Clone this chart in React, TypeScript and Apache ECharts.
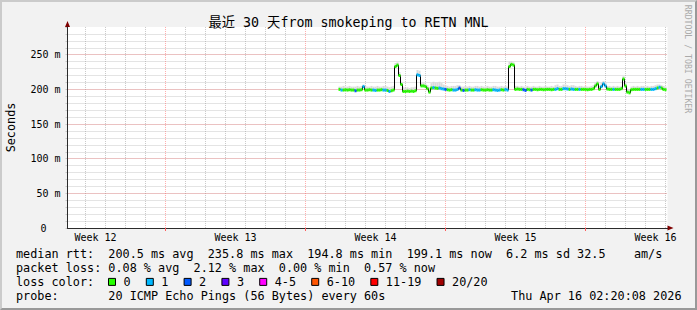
import React, { useEffect, useRef } from 'react';
import * as echarts from 'echarts';

const MONO = "'DejaVu Sans Mono', 'Noto Sans CJK SC', monospace";

const TITLE = '最近 30 天from smokeping to RETN MNL';
const Y_AXIS_NAME = 'Seconds';
const WATERMARK = 'RRDTOOL / TOBI OETIKER';

// x axis in days, 0 = start of Week 13
const X_MIN = -4.9;
const X_MAX = 25.1;
const Y_MAX = 290;
const Y_MAJOR = 50;
const Y_MINOR = 10;
const WEEK_STARTS = [0, 7, 14, 21];
const WEEK_LABELS = ['Week 12', 'Week 13', 'Week 14', 'Week 15', 'Week 16'];
const WEEK_LABEL_AT = [-3.5, 3.5, 10.5, 17.5, 24.5];

// samples (ms), every 0.1 day starting at day 8.7
const SAMPLE_T0 = 8.7;
const SAMPLE_STEP = 0.1;
const MEDIAN_MS = [
  200, 199, 199, 199.5, 199, 199.5, 199, 199, 198, 199,
  199, 199.5, 204, 199, 199, 199.5, 199, 199, 198.5, 199,
  199, 199.5, 199, 199, 198.5, 197, 198, 199, 233, 235,
  220, 207, 197, 197, 197.5, 197, 197.5, 197, 198, 221,
  220, 205, 205, 204, 201, 196, 202, 202.5, 202, 201.5,
  202, 201, 200.5, 200, 199.5, 199, 199.5, 199, 199, 200,
  202, 199, 198.5, 199, 199, 199.5, 199, 199, 199.5, 199,
  199, 199.5, 199, 199, 199.5, 199, 199, 199.5, 199, 198.5,
  199, 199.5, 199, 200, 199, 233, 236, 235, 200, 200.5,
  200, 200, 199.5, 198.5, 200, 199.5, 199, 200, 200, 199.5,
  200, 200, 199.5, 200, 200, 200, 199.5, 200, 200, 201,
  200, 200, 201, 201, 200.5, 200, 200.5, 200, 200, 200,
  200, 200, 200, 200, 199.5, 200, 200, 201, 205, 208,
  200, 204, 208, 205, 200.5, 200, 200, 200, 200, 200,
  200, 201, 215, 205, 196, 195, 199.5, 200, 200, 200,
  200, 200, 200, 200, 200, 200, 200, 200, 201, 202,
  203, 202, 200, 199.5,
];
const LOSS_COUNT = [
  0, 1, 0, 0, 0, 0, 0, 0, 2, 0,
  0, 0, 1, 0, 0, 0, 0, 1, 1, 0,
  0, 0, 1, 1, 0, 1, 0, 0, 0, 0,
  0, 0, 0, 0, 0, 0, 0, 0, 0, 1,
  1, 0, 0, 0, 0, 0, 0, 1, 0, 0,
  1, 1, 1, 2, 0, 0, 0, 1, 1, 1,
  2, 0, 2, 0, 0, 1, 0, 0, 1, 1,
  1, 0, 0, 0, 0, 0, 0, 1, 1, 1,
  1, 0, 0, 1, 1, 0, 0, 0, 0, 0,
  0, 0, 2, 2, 0, 0, 2, 0, 0, 0,
  0, 0, 0, 0, 0, 0, 0, 0, 1, 1,
  0, 0, 1, 1, 1, 0, 1, 1, 0, 0,
  1, 0, 0, 0, 0, 0, 0, 0, 0, 0,
  0, 1, 1, 1, 0, 0, 0, 1, 0, 0,
  0, 0, 0, 0, 0, 0, 0, 0, 0, 0,
  0, 1, 1, 0, 0, 0, 1, 1, 1, 0,
  1, 0, 0, 0,
];
const SMOKE_MAX_MS = [
  204, 204, 205, 204, 204, 205, 204, 204, 204, 205,
  204, 205, 207, 205, 204, 204, 205, 204, 204, 205,
  204, 204, 205, 205, 204, 203, 204, 205, 238, 239,
  225, 211, 203, 202, 203, 202, 203, 203, 204, 228,
  227, 209, 209, 208, 206, 203, 209, 211, 210, 210,
  211, 209, 207, 206, 205, 204, 205, 205, 205, 206,
  206, 204, 204, 205, 204, 205, 204, 204, 205, 205,
  204, 205, 204, 204, 205, 204, 204, 205, 205, 204,
  204, 205, 204, 205, 204, 240, 241, 239, 205, 205,
  204, 205, 204, 204, 205, 204, 204, 205, 204, 204,
  205, 204, 204, 205, 204, 204, 205, 204, 206, 207,
  205, 205, 207, 207, 206, 205, 206, 206, 205, 204,
  205, 205, 204, 205, 204, 204, 205, 206, 210, 212,
  205, 209, 212, 210, 205, 205, 204, 205, 204, 205,
  204, 205, 219, 209, 201, 200, 204, 205, 204, 205,
  204, 205, 205, 204, 205, 204, 205, 205, 206, 207,
  207, 206, 205, 204,
];

const LOSS_NAMES = ['0', '1', '2', '3', '4-5', '6-10', '11-19', '20/20'];
const LOSS_COLORS = ['#26ff00', '#00b8ff', '#0059ff', '#5e00ff', '#ff00ff', '#ff5500', '#ff0000', '#a00000'];

const STATS_RTT = 'median rtt:  200.5 ms avg  235.8 ms max  194.8 ms min  199.1 ms now  6.2 ms sd 32.5    am/s';
const STATS_LOSS = 'packet loss: 0.08 % avg  2.12 % max  0.00 % min  0.57 % now';
const LOSS_LEGEND_LABEL = 'loss color:';
const PROBE_TEXT = 'probe:       20 ICMP Echo Pings (56 Bytes) every 60s';
const TIMESTAMP = 'Thu Apr 16 02:20:08 2026';

const SMOKE_COLOR = '#dadada';
const MINOR_GRID = 'rgba(150,150,150,0.5)';
const MAJOR_GRID = 'rgba(255,91,91,0.5)';
const AXIS_COLOR = '#2b2b2b';
const ARROW_COLOR = '#7f0000';

function lossBucket(c: number): number {
  if (c <= 3) return c;
  if (c <= 5) return 4;
  if (c <= 10) return 5;
  if (c <= 19) return 6;
  return 7;
}

export default function App() {
  const ref = useRef<HTMLDivElement>(null);

  useEffect(() => {
    if (!ref.current) return;
    const chart = echarts.init(ref.current, undefined, { renderer: 'svg' });
    const HALF = SAMPLE_STEP / 2;
    const rows = MEDIAN_MS.map((v, i) => ({
      t: +(SAMPLE_T0 + i * SAMPLE_STEP).toFixed(2),
      v,
      loss: LOSS_COUNT[i],
      smoke: SMOKE_MAX_MS[i],
    }));

    const dayLines: number[] = [];
    for (let d = Math.ceil(X_MIN); d <= Math.floor(X_MAX); d++) {
      if (!WEEK_STARTS.includes(d)) dayLines.push(d);
    }

    const lossSeries = LOSS_NAMES.map((name, k) => ({
      type: 'custom',
      name,
      coordinateSystem: 'cartesian2d',
      xAxisIndex: 0,
      yAxisIndex: 1,
      z: 5,
      silent: true,
      itemStyle: { color: LOSS_COLORS[k] },
      encode: { x: 0, y: 1 },
      data: rows.filter((r) => lossBucket(r.loss) === k).map((r) => [r.t, r.v]),
      renderItem: (_p: any, api: any) => {
        const t = api.value(0);
        const v = api.value(1);
        const a = api.coord([t - HALF, v]);
        const b = api.coord([t + HALF, v]);
        return {
          type: 'rect',
          shape: { x: a[0], y: a[1] - 1.5, width: b[0] - a[0], height: 3 },
          style: { fill: LOSS_COLORS[k] },
        };
      },
    }));

    const option: any = {
      animation: false,
      backgroundColor: '#f2f2f2',
      grid: {
        left: 67.5,
        top: 27,
        width: 600,
        height: 201,
        show: true,
        backgroundColor: '#ffffff',
        borderWidth: 0,
      },
      legend: {
        data: LOSS_NAMES,
        left: 108,
        top: 276,
        padding: 0,
        icon: 'rect',
        itemWidth: 7,
        itemHeight: 7,
        itemGap: 15.2,
        selectedMode: false,
        itemStyle: { borderColor: '#000', borderWidth: 1 },
        textStyle: { fontFamily: MONO, fontSize: 11.8, color: '#000', padding: [0, 0, 0, 3] },
      },
      xAxis: [
        {
          type: 'value',
          min: X_MIN,
          max: X_MAX,
          position: 'bottom',
          z: 2,
          axisLine: { show: true, onZero: false, lineStyle: { color: AXIS_COLOR, width: 1 } },
          splitLine: { show: false },
          axisTick: {
            show: true,
            customValues: WEEK_STARTS,
            length: 3,
            lineStyle: { color: '#ff5b5b' },
          },
          axisLabel: {
            customValues: WEEK_LABEL_AT,
            formatter: (v: number) => {
              const idx = WEEK_LABEL_AT.findIndex((p) => Math.abs(p - v) < 1e-6);
              return idx >= 0 ? WEEK_LABELS[idx] : '';
            },
            margin: 4,
            fontFamily: MONO,
            fontSize: 10,
            color: '#000',
          },
        },
        {
          type: 'value',
          min: X_MIN,
          max: X_MAX,
          position: 'bottom',
          z: 1,
          axisLine: {
            show: true,
            onZero: false,
            symbol: ['none', 'triangle'],
            symbolSize: [5, 6],
            symbolOffset: [0, 3],
            lineStyle: { color: ARROW_COLOR, width: 1 },
          },
          axisTick: { show: false },
          axisLabel: { show: false },
          splitLine: { show: false },
        },
      ],
      yAxis: [
        {
          type: 'value',
          min: 0,
          max: Y_MAX,
          interval: Y_MINOR,
          position: 'left',
          z: 1,
          axisLine: {
            show: true,
            onZero: false,
            symbol: ['none', 'triangle'],
            symbolSize: [5, 6],
            symbolOffset: [0, 3],
            lineStyle: { color: ARROW_COLOR, width: 1 },
          },
          axisTick: { show: true, length: 2, lineStyle: { color: '#c8c8c8' } },
          axisLabel: { show: false },
          splitLine: {
            show: true,
            showMinLine: false,
            showMaxLine: false,
            lineStyle: { color: MINOR_GRID, type: [1, 1], width: 1 },
          },
        },
        {
          type: 'value',
          min: 0,
          max: Y_MAX,
          interval: Y_MAJOR,
          position: 'left',
          z: 2,
          axisLine: { show: true, onZero: false, lineStyle: { color: AXIS_COLOR, width: 1 } },
          axisTick: { show: false },
          axisLabel: {
            margin: 7,
            fontFamily: MONO,
            fontSize: 10,
            color: '#000',
            formatter: (v: number) => {
              if (v % Y_MAJOR !== 0) return '';
              return v === 0 ? '{z|0}' : `${v} m`;
            },
            rich: {
              z: { fontFamily: MONO, fontSize: 10, color: '#000', padding: [0, 14, 0, 0] },
            },
          },
          splitLine: {
            show: true,
            showMinLine: false,
            showMaxLine: false,
            lineStyle: { color: MAJOR_GRID, type: [1, 1], width: 1 },
          },
        },
      ],
      series: [
        {
          type: 'custom',
          name: 'smoke',
          coordinateSystem: 'cartesian2d',
          xAxisIndex: 0,
          yAxisIndex: 1,
          z: 3,
          silent: true,
          encode: { x: 0, y: [1, 2] },
          data: rows.map((r) => [r.t, r.smoke, r.v]),
          renderItem: (_p: any, api: any) => {
            const t = api.value(0);
            const a = api.coord([t - HALF, api.value(1)]);
            const b = api.coord([t + HALF, api.value(2)]);
            return {
              type: 'rect',
              shape: { x: a[0], y: a[1], width: b[0] - a[0], height: b[1] - a[1] },
              style: { fill: SMOKE_COLOR },
            };
          },
        },
        {
          type: 'line',
          name: 'median',
          xAxisIndex: 0,
          yAxisIndex: 1,
          z: 4,
          silent: true,
          step: 'middle',
          symbol: 'none',
          lineStyle: { color: '#000', width: 1 },
          data: rows.map((r) => [r.t, r.v]),
          markLine: {
            silent: true,
            z: 1,
            symbol: ['none', 'none'],
            label: { show: false },
            emphasis: { disabled: true },
            animation: false,
            data: [
              ...dayLines.map((d) => ({ xAxis: d, lineStyle: { color: MINOR_GRID, type: [1, 1], width: 1 } })),
              ...WEEK_STARTS.map((d) => ({ xAxis: d, lineStyle: { color: MAJOR_GRID, type: [1, 1], width: 1 } })),
            ],
          },
        },
        ...lossSeries,
      ],
      graphic: [
        {
          type: 'text',
          x: 348.5,
          y: 22,
          style: { text: TITLE, fontFamily: MONO, fontSize: 13.3, fill: '#000', textAlign: 'center', textVerticalAlign: 'middle' },
        },
        {
          type: 'text',
          x: 10.5,
          y: 127.5,
          rotation: Math.PI / 2,
          style: { text: Y_AXIS_NAME, fontFamily: MONO, fontSize: 11.8, fill: '#000', textAlign: 'center', textVerticalAlign: 'middle' },
        },
        {
          type: 'text',
          x: 688,
          y: 59,
          rotation: -Math.PI / 2,
          style: { text: WATERMARK, fontFamily: MONO, fontSize: 8.2, fill: '#aaaaaa', textAlign: 'center', textVerticalAlign: 'middle' },
        },
        {
          type: 'text',
          x: 16,
          y: 254.2,
          style: { text: STATS_RTT, fontFamily: MONO, fontSize: 11.8, fill: '#000', textAlign: 'left', textVerticalAlign: 'middle' },
        },
        {
          type: 'text',
          x: 16,
          y: 267.9,
          style: { text: STATS_LOSS, fontFamily: MONO, fontSize: 11.8, fill: '#000', textAlign: 'left', textVerticalAlign: 'middle' },
        },
        {
          type: 'text',
          x: 16,
          y: 281.7,
          style: { text: LOSS_LEGEND_LABEL, fontFamily: MONO, fontSize: 11.8, fill: '#000', textAlign: 'left', textVerticalAlign: 'middle' },
        },
        {
          type: 'text',
          x: 16,
          y: 295.5,
          style: { text: PROBE_TEXT, fontFamily: MONO, fontSize: 11.8, fill: '#000', textAlign: 'left', textVerticalAlign: 'middle' },
        },
        {
          type: 'text',
          x: 681.5,
          y: 295.5,
          style: { text: TIMESTAMP, fontFamily: MONO, fontSize: 11.8, fill: '#000', textAlign: 'right', textVerticalAlign: 'middle' },
        },
      ],
    };

    chart.setOption(option);
    return () => chart.dispose();
  }, []);

  return (
    <div style={{ position: 'absolute', left: 0, top: 0, width: 697, height: 310 }}>
      <div ref={ref} style={{ width: 697, height: 310 }} />
      <div
        style={{
          position: 'absolute',
          left: 0,
          top: 0,
          width: 697,
          height: 310,
          boxSizing: 'border-box',
          borderTop: '2px solid #cbcbcb',
          borderLeft: '2px solid #cbcbcb',
          borderRight: '2px solid #999999',
          borderBottom: '2px solid #999999',
          pointerEvents: 'none',
        }}
      />
    </div>
  );
}
